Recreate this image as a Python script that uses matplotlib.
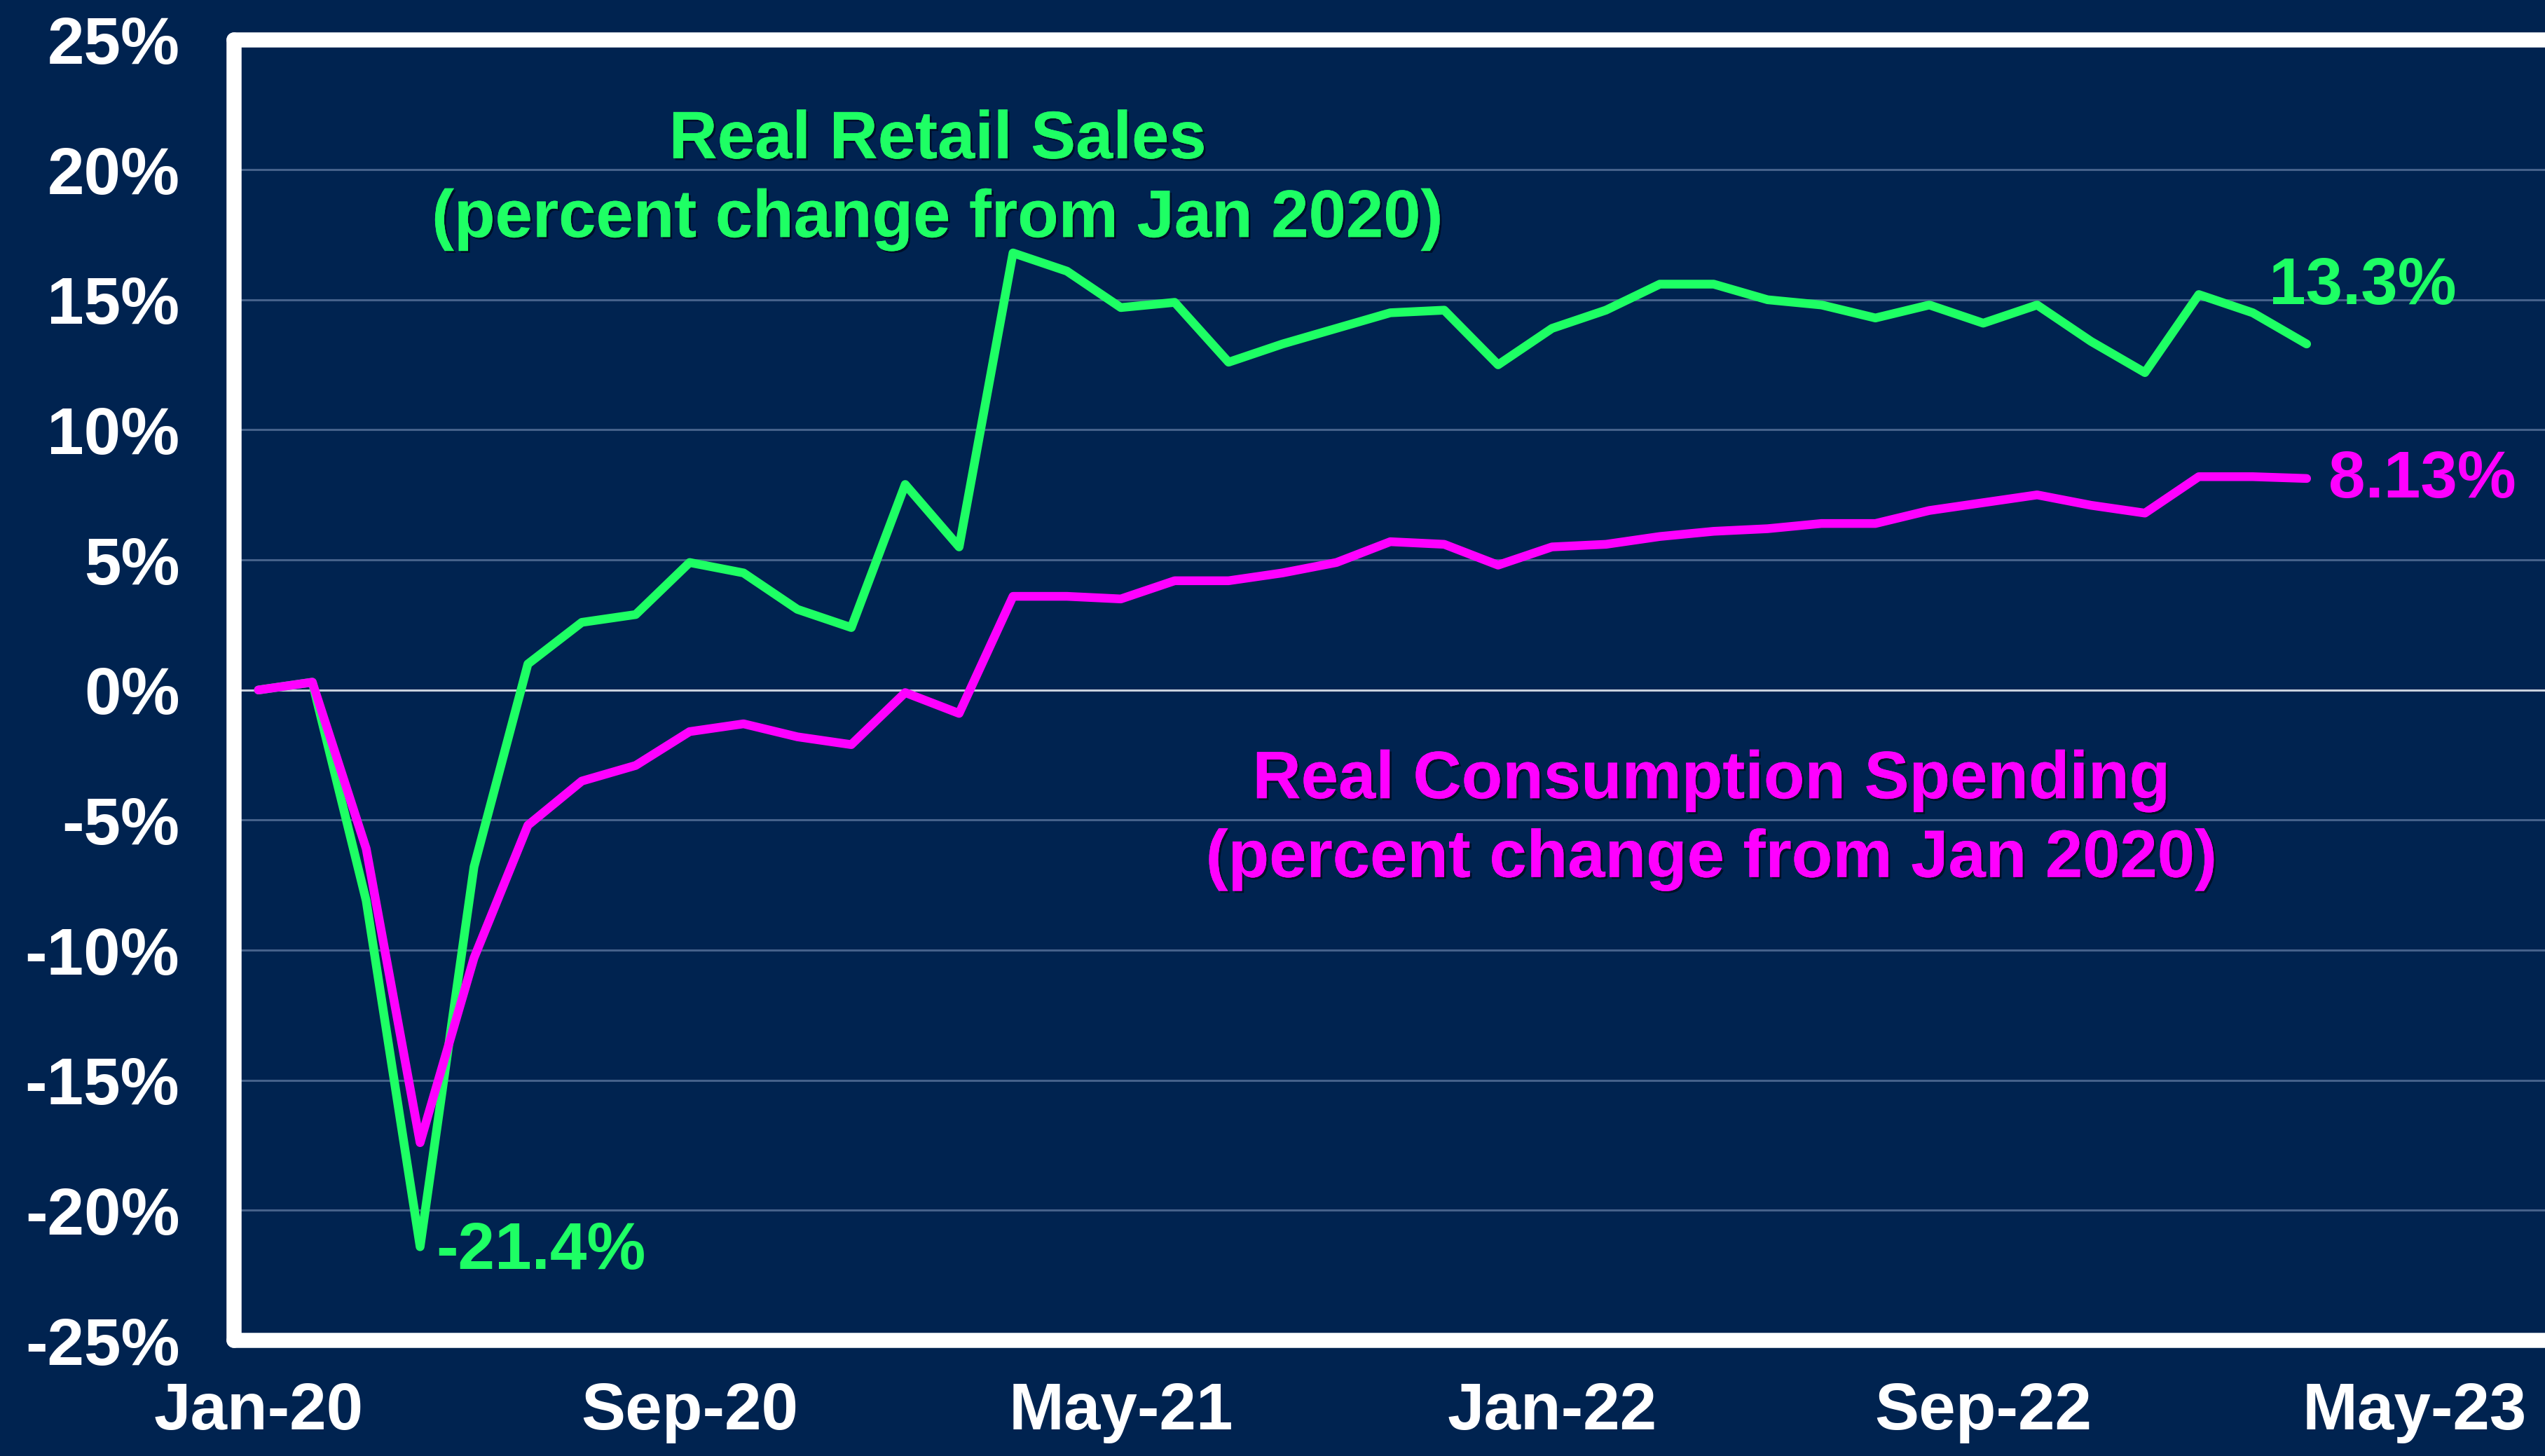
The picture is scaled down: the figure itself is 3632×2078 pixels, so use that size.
import matplotlib
matplotlib.use("Agg")
import matplotlib.pyplot as plt
import matplotlib.patheffects as pe

plt.rcParams['font.family'] = ['Liberation Sans', 'DejaVu Sans']
plt.rcParams['font.weight'] = 'bold'

# miesiace od Jan-20 (0) do Mar-23 (38)
months = list(range(39))
retail_sales = [0.0, 0.3, -8.1, -21.4, -6.8, 1.0, 2.6, 2.9, 4.9, 4.5,
                3.1, 2.4, 7.9, 5.5, 16.8, 16.1, 14.7, 14.9, 12.6, 13.3,
                13.9, 14.5, 14.6, 12.5, 13.9, 14.6, 15.6, 15.6, 15.0, 14.8,
                14.3, 14.8, 14.1, 14.8, 13.4, 12.2, 15.2, 14.5, 13.3]
consumption = [0.0, 0.3, -6.1, -17.4, -10.3, -5.2, -3.5, -2.9, -1.6, -1.3,
               -1.8, -2.1, -0.1, -0.9, 3.6, 3.6, 3.5, 4.2, 4.2, 4.5,
               4.9, 5.7, 5.6, 4.8, 5.5, 5.6, 5.9, 6.1, 6.2, 6.4,
               6.4, 6.9, 7.2, 7.5, 7.1, 6.8, 8.2, 8.2, 8.13]
x_ticks = [0, 8, 16, 24, 32, 40]
x_labels = ["Jan-20", "Sep-20", "May-21", "Jan-22", "Sep-22", "May-23"]
y_ticks = list(range(-25, 30, 5))

bg = '#002350'
green = '#1eff64'
magenta = '#ff00ff'

fig = plt.figure(figsize=(36.32, 20.78), dpi=100, facecolor=bg)
ax = fig.add_axes([0.092, 0.0794, 0.9215, 0.8934])
ax.set_facecolor(bg)

# siatka pozioma
for v in y_ticks:
    if v == 0:
        ax.axhline(v, color='#c8d0dc', linewidth=2.2, zorder=1)
    else:
        ax.axhline(v, color='#45618a', linewidth=2.2, zorder=1)

ax.plot(months, retail_sales, color=green, linewidth=9,
        solid_capstyle='round', solid_joinstyle='round', zorder=3)
ax.plot(months, consumption, color=magenta, linewidth=9,
        solid_capstyle='round', solid_joinstyle='round', zorder=3)

ax.set_xlim(-0.45, 43.06)
ax.set_ylim(-25, 25)
ax.set_xticks(x_ticks)
ax.set_xticklabels(x_labels)
ax.set_yticks(y_ticks)
ax.set_yticklabels([f"{v}%" for v in y_ticks])
ax.tick_params(axis='both', length=0, colors='white', labelsize=68)
ax.tick_params(axis='y', pad=56)
ax.tick_params(axis='x', pad=42)

for side in ['left', 'top', 'bottom']:
    ax.spines[side].set_color('white')
    ax.spines[side].set_linewidth(15.5)
    ax.spines[side].set_capstyle('round')
    ax.spines[side].set_joinstyle('round')
ax.spines['right'].set_visible(False)

shadow = [pe.withSimplePatchShadow(offset=(2, -2), shadow_rgbFace='#000a1e', alpha=0.8), pe.Normal()]

ax.text(12.6, 19.6, "Real Retail Sales\n(percent change from Jan 2020)",
        color=green, fontsize=69, ha='center', va='center', fontweight='bold',
        linespacing=1.32, path_effects=shadow, zorder=4)
ax.text(26.96, -5.0, "Real Consumption Spending\n(percent change from Jan 2020)",
        color=magenta, fontsize=69, ha='center', va='center', fontweight='bold',
        linespacing=1.32, path_effects=shadow, zorder=4)

ax.text(3.3, -21.6, "-21.4%", color=green, fontsize=68, ha='left', va='center', fontweight='bold')
ax.text(37.3, 15.5, "13.3%", color=green, fontsize=68, ha='left', va='center', fontweight='bold')
ax.text(38.4, 8.06, "8.13%", color=magenta, fontsize=68, ha='left', va='center', fontweight='bold')

fig.savefig("out.png", dpi=100, facecolor=bg)
